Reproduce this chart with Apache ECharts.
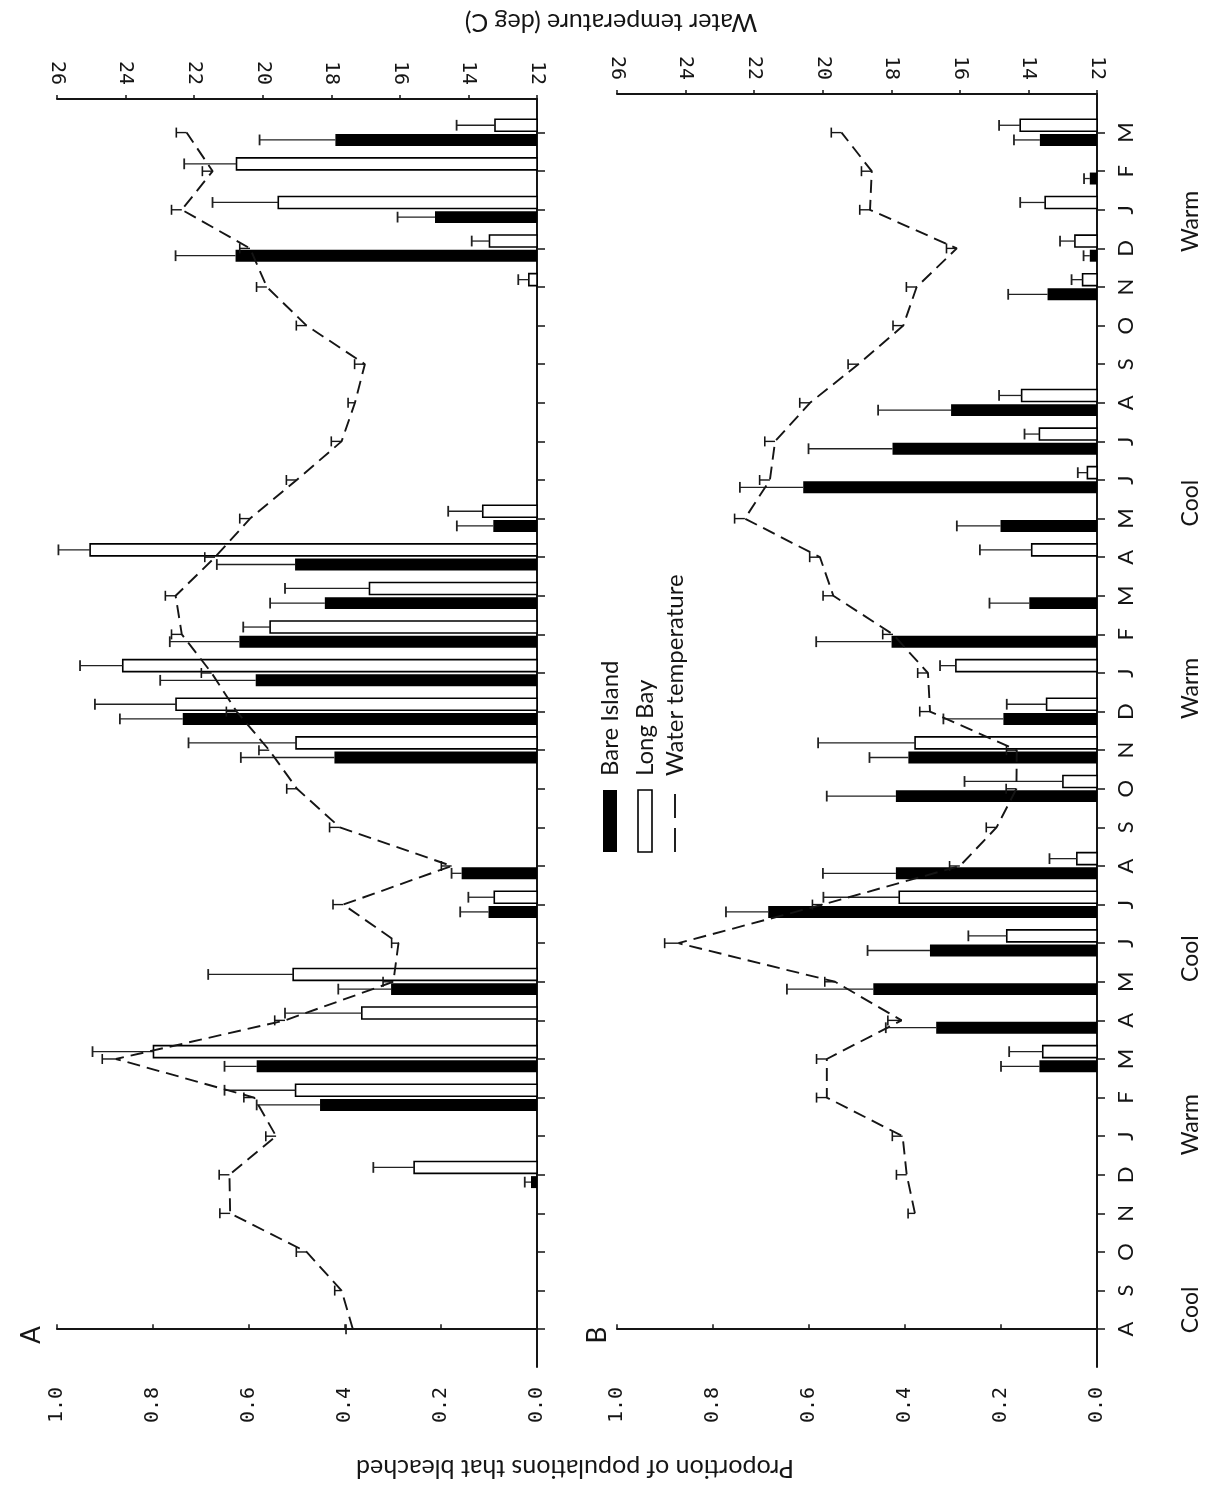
<!DOCTYPE html>
<html>
<head>
<meta charset="utf-8">
<script src="https://cdn.jsdelivr.net/npm/echarts@6/dist/echarts.min.js"></script>
<style>
  html, body { margin: 0; padding: 0; background: #fff; }
  #chart { width: 1210px; height: 1492px; }
</style>
</head>
<body>
<div id="chart"></div>
<script>
// Months, August (year 1) to March (year 3)
const months = ['A','S','O','N','D','J','F','M','A','M','J','J','A','S','O','N','D','J','F','M','A','M','J','J','A','S','O','N','D','J','F','M'];

// Season labels and the month position each one is centred on
const seasons = ['Cool', 'Warm', 'Cool', 'Warm', 'Cool', 'Warm'];
const seasonAt = [0.5, 5.3, 9.6, 16.6, 21.4, 28.7];

// Panel A: proportion of populations that bleached (+ one-sided SE)
const bareA = [null,null,null,null,0.0125,null,0.452,0.584,null,0.304,null,0.101,0.157,null,null,0.422,0.738,0.586,0.620,0.442,0.504,0.091,null,null,null,null,null,null,0.628,0.2125,null,0.420];
const bareAErr = [0,0,0,0,0.013,0,0.132,0.067,0,0.110,0,0.059,0.021,0,0,0.195,0.131,0.199,0.145,0.114,0.163,0.076,0,0,0,0,0,0,0.125,0.078,0,0.158];
const longA = [null,null,null,null,0.256,null,0.503,0.799,0.365,0.508,null,0.089,null,null,null,0.502,0.752,0.863,0.556,0.349,0.931,0.113,null,null,null,null,null,0.017,0.099,0.539,0.626,0.0875];
const longAErr = [0,0,0,0,0.085,0,0.148,0.127,0.160,0.177,0,0.054,0,0,0,0.224,0.169,0.089,0.056,0.176,0.066,0.072,0,0,0,0,0,0.022,0.037,0.137,0.109,0.080];

// Panel B
const bareB = [null,null,null,null,null,null,null,0.120,0.335,0.466,0.348,0.685,0.419,null,0.419,0.393,0.195,null,0.428,0.141,null,0.201,0.612,0.426,0.304,null,null,0.103,0.015,null,0.015,0.119];
const bareBErr = [0,0,0,0,0,0,0,0.080,0.105,0.180,0.130,0.088,0.152,0,0.144,0.081,0.125,0,0.157,0.083,0,0.091,0.132,0.175,0.152,0,0,0.082,0.013,0,0.012,0.054];
const longB = [null,null,null,null,null,null,null,0.113,null,null,0.188,0.412,0.042,null,0.071,0.379,0.105,0.294,null,null,0.136,null,0.020,0.120,0.157,null,null,0.030,0.046,0.108,null,0.160];
const longBErr = [0,0,0,0,0,0,0,0.070,0,0,0.080,0.158,0.057,0,0.205,0.202,0.083,0.033,0,0,0.108,0,0.020,0.031,0.047,0,0,0.023,0.031,0.052,0,0.044];

// Monthly mean water temperature (deg C) and its SE
const tempA = [17.37,17.70,18.72,20.95,20.97,19.61,20.25,24.28,19.35,16.19,16.04,17.65,14.49,17.75,19.00,19.81,20.76,21.49,22.36,22.54,21.39,20.37,19.01,17.70,17.31,17.02,18.72,19.88,20.37,22.36,21.46,22.22];
const tempAErr = [0.2,0.2,0.3,0.3,0.3,0.3,0.3,0.4,0.3,0.3,0.2,0.3,0.3,0.3,0.3,0.3,0.3,0.3,0.3,0.3,0.3,0.3,0.3,0.3,0.2,0.3,0.3,0.3,0.3,0.3,0.3,0.3];
const tempB = [null,null,null,17.31,17.55,17.67,19.88,19.88,17.70,19.64,24.21,20.00,16.00,14.93,14.35,14.34,16.87,16.93,17.95,19.69,20.08,22.27,21.54,21.39,20.37,18.96,17.65,17.26,16.09,18.62,18.57,19.45];
const tempBErr = [0,0,0,0.2,0.3,0.3,0.3,0.3,0.4,0.3,0.4,0.3,0.3,0.3,0.3,0.3,0.3,0.3,0.3,0.3,0.3,0.3,0.3,0.3,0.3,0.3,0.3,0.3,0.3,0.3,0.3,0.3];

const monthIdx = months.map((m, i) => i);
const INK = '#151515';
const TEXT_FONT = 'Lato, "Open Sans", sans-serif';
const NUM_FONT = '"DejaVu Sans Mono", monospace';

function triples(vals, errs) {
  const out = [];
  vals.forEach((v, i) => { if (v != null) out.push([v, i, errs[i] || 0]); });
  return out;
}

// Horizontal bar with its error whisker; side > 0 sits below the month tick, side < 0 above it
function barRenderer(side, filled) {
  return function (params, api) {
    const v = api.value(0), i = api.value(1), e = api.value(2);
    const band = api.size([0, 1])[1];
    const h = band * 0.31;
    const gap = band * 0.035;
    const base = api.coord([0, i]);
    const end = api.coord([v, i]);
    const y0 = side > 0 ? base[1] + gap : base[1] - gap - h;
    const yc = y0 + h / 2;
    const children = [{
      type: 'rect',
      shape: { x: Math.min(base[0], end[0]), y: y0, width: Math.abs(base[0] - end[0]), height: h },
      style: filled ? { fill: '#000' } : { fill: '#fff', stroke: '#000', lineWidth: 1.6 }
    }];
    if (e > 0) {
      const tip = api.coord([v + e, i]);
      children.push({ type: 'line', shape: { x1: end[0], y1: yc, x2: tip[0], y2: yc }, style: { stroke: '#222', lineWidth: 1.3 } });
      children.push({ type: 'line', shape: { x1: tip[0], y1: yc - h * 0.45, x2: tip[0], y2: yc + h * 0.45 }, style: { stroke: '#222', lineWidth: 1.8 } });
    }
    return { type: 'group', children };
  };
}

// Small whisker on each temperature point
function tempErrRenderer(params, api) {
  const t = api.value(0), i = api.value(1), e = api.value(2);
  const p = api.coord([t, i]);
  const tip = api.coord([t + e, i]);
  return {
    type: 'group',
    children: [
      { type: 'line', shape: { x1: p[0], y1: p[1], x2: tip[0], y2: p[1] }, style: { stroke: INK, lineWidth: 1.4 } },
      { type: 'line', shape: { x1: tip[0], y1: p[1] - 5, x2: tip[0], y2: p[1] + 5 }, style: { stroke: INK, lineWidth: 1.6 } }
    ]
  };
}

const lineStyle = { color: INK, width: 2 };

function propAxis(grid) {
  return {
    gridIndex: grid, type: 'value', min: 0, max: 1, interval: 0.2, inverse: true, position: 'bottom',
    axisLine: { show: true, lineStyle }, axisTick: { show: true, inside: true, length: 5, lineStyle: { color: INK, width: 1.5 } },
    splitLine: { show: false },
    axisLabel: { rotate: 90, margin: 20, color: INK, fontFamily: NUM_FONT, fontSize: 20, formatter: v => v.toFixed(1) }
  };
}
function tempAxis(grid) {
  return {
    gridIndex: grid, type: 'value', min: 12, max: 26, interval: 2, inverse: true, position: 'top',
    axisLine: { show: true, lineStyle }, axisTick: { show: true, inside: false, length: 4, lineStyle: { color: INK, width: 1.5 } },
    splitLine: { show: false },
    axisLabel: { rotate: 90, margin: 14, color: INK, fontFamily: NUM_FONT, fontSize: 20 }
  };
}
function monthAxis(grid, max, showLabels) {
  return {
    gridIndex: grid, type: 'value', min: -0.98, max: max, position: 'right',
    axisLine: { show: true, lineStyle }, splitLine: { show: false },
    axisTick: { show: true, customValues: monthIdx, length: 8, lineStyle: { color: INK, width: 1.5 } },
    axisLabel: {
      show: showLabels, customValues: monthIdx, rotate: 90, margin: 18,
      color: INK, fontFamily: TEXT_FONT, fontSize: 22, formatter: v => months[v]
    }
  };
}

function panelSeries(bare, bareErr, longv, longErr, temp, tempErr, px, tx, y) {
  const tData = triples(temp, tempErr);
  return [
    { type: 'custom', xAxisIndex: px, yAxisIndex: y, renderItem: barRenderer(1, true), data: triples(bare, bareErr), encode: { x: 0, y: 1 }, z: 2 },
    { type: 'custom', xAxisIndex: px, yAxisIndex: y, renderItem: barRenderer(-1, false), data: triples(longv, longErr), encode: { x: 0, y: 1 }, z: 2 },
    { type: 'line', xAxisIndex: tx, yAxisIndex: y, data: tData.map(d => [d[0], d[1]]), showSymbol: false, symbol: 'none',
      lineStyle: { color: INK, width: 1.9, type: [13, 7] }, z: 4 },
    { type: 'custom', xAxisIndex: tx, yAxisIndex: y, renderItem: tempErrRenderer, data: tData, encode: { x: 0, y: 1 }, z: 4 }
  ];
}

const chart = echarts.init(document.getElementById('chart'), null, { renderer: 'canvas' });

const textStyle = (txt, size) => ({ text: txt, font: size + 'px ' + TEXT_FONT, fill: INK, align: 'center', verticalAlign: 'middle' });

chart.setOption({
  animation: false,
  backgroundColor: '#fff',
  grid: [
    { left: 57, right: 1210 - 537, top: 99, bottom: 1492 - 1367 },
    { left: 617, right: 1210 - 1097, top: 94, bottom: 1492 - 1367 }
  ],
  xAxis: [propAxis(0), tempAxis(0), propAxis(1), tempAxis(1)],
  yAxis: [monthAxis(0, 31.87, false), monthAxis(1, 32.0, true)],
  series: [
    ...panelSeries(bareA, bareAErr, longA, longAErr, tempA, tempAErr, 0, 1, 0),
    ...panelSeries(bareB, bareBErr, longB, longBErr, tempB, tempBErr, 2, 3, 1)
  ]
});

// Titles, panel letters, legend and season labels
const legendFont = '24px ' + TEXT_FONT;
const graphics = [
  { type: 'text', x: 611, y: 22, rotation: Math.PI, style: textStyle('Water temperature (deg C)', 25) },
  { type: 'text', x: 575, y: 1468, rotation: Math.PI, style: textStyle('Proportion of populations that bleached', 25) },
  { type: 'text', x: 32, y: 1335, rotation: Math.PI / 2, style: textStyle('A', 26) },
  { type: 'text', x: 598, y: 1335, rotation: Math.PI / 2, style: textStyle('B', 26) },
  {
    type: 'group', x: 603, y: 852, rotation: Math.PI / 2,
    children: [
      { type: 'rect', shape: { x: 0, y: 0, width: 62, height: 14 }, style: { fill: '#000' } },
      { type: 'text', x: 76, y: 7, style: { text: 'Bare Island', font: legendFont, fill: INK, verticalAlign: 'middle' } },
      { type: 'rect', shape: { x: 0, y: 35, width: 62, height: 14 }, style: { fill: '#fff', stroke: '#000', lineWidth: 1.6 } },
      { type: 'text', x: 76, y: 42, style: { text: 'Long Bay', font: legendFont, fill: INK, verticalAlign: 'middle' } },
      { type: 'line', shape: { x1: 0, y1: 72, x2: 62, y2: 72 }, style: { stroke: INK, lineWidth: 1.9, lineDash: [24, 10] } },
      { type: 'text', x: 76, y: 72, style: { text: 'Water temperature', font: legendFont, fill: INK, verticalAlign: 'middle' } }
    ]
  }
];
seasons.forEach((s, k) => {
  const y = chart.convertToPixel({ yAxisIndex: 1 }, seasonAt[k]);
  graphics.push({ type: 'text', x: 1191, y: y, rotation: Math.PI / 2, style: textStyle(s, 23) });
});
chart.setOption({ graphic: graphics });
</script>
</body>
</html>
